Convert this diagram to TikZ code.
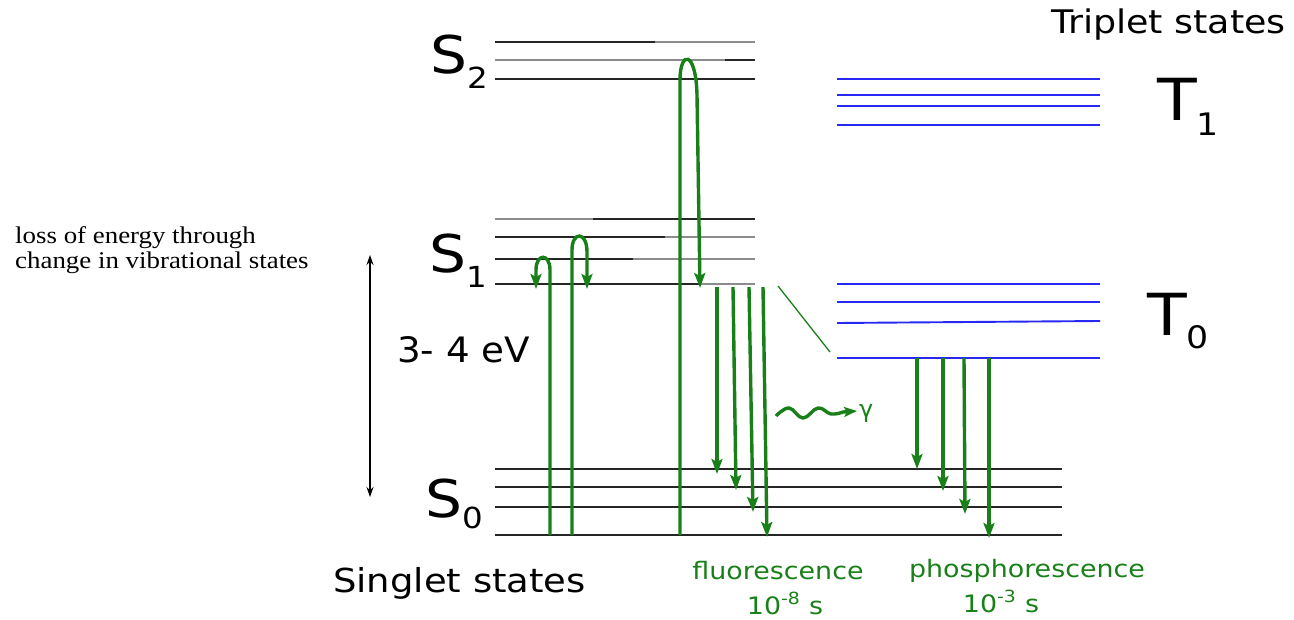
\documentclass[tikz,border=0pt]{standalone}
\usepackage{fontspec}
\setmainfont{DejaVu Sans}
\newfontfamily\serifx{Liberation Serif}
\usetikzlibrary{arrows.meta}
\definecolor{grn}{RGB}{25,128,25}
\definecolor{blu}{RGB}{40,40,245}
\definecolor{gry}{RGB}{140,140,140}
\begin{document}
\begin{tikzpicture}[x=1pt,y=-1pt,
  lvl/.style={line width=1.9pt,black!85},
  lvlg/.style={line width=1.9pt,gry},
  tlvl/.style={line width=1.9pt,blu},
  tr/.style={grn,line width=3.4pt,-{Stealth[length=15pt,width=11pt,inset=3pt]}},
  lbl/.style={inner sep=0pt,anchor=base west,xscale=1.12},
  gtxt/.style={inner sep=0pt,anchor=base,grn,xscale=1.12,font=\fontsize{24}{24}\selectfont},
]
\useasboundingbox (0,0) rectangle (1294,619);

% ---- singlet S2 levels
\draw[lvl] (495,42) -- (655,42); \draw[lvlg] (655,42) -- (755,42);
\draw[lvlg] (495,60) -- (725,60); \draw[lvl] (725,60) -- (755,60);
\draw[lvl] (495,79) -- (755,79);
% ---- singlet S1 levels
\draw[lvlg] (495,219) -- (593,219); \draw[lvl] (593,219) -- (755,219);
\draw[lvl] (495,237) -- (665,237); \draw[lvlg] (665,237) -- (755,237);
\draw[lvl] (495,259) -- (633,259); \draw[lvlg] (633,259) -- (755,259);
\draw[lvl] (495,284) -- (700,284); \draw[lvlg] (700,284) -- (755,284);
% ---- singlet S0 levels
\foreach \y in {469,487,507,535} \draw[lvl] (495,\y) -- (1062,\y);
% ---- triplet T1 levels
\foreach \y in {79,95,106,125} \draw[tlvl] (837,\y) -- (1100,\y);
% ---- triplet T0 levels
\foreach \y in {284,302,358} \draw[tlvl] (837,\y) -- (1100,\y);
\draw[tlvl] (837,323) -- (1100,321);

% ---- labels
\node[lbl,font=\fontsize{52}{52}\selectfont] (s2) at (430,73) {S\raisebox{-15pt}{\fontsize{29}{29}\selectfont 2}};
\node[lbl,font=\fontsize{52}{52}\selectfont] (s1) at (429,272) {S\raisebox{-15pt}{\fontsize{29}{29}\selectfont 1}};
\node[lbl,font=\fontsize{52}{52}\selectfont] (s0) at (425,517) {S\raisebox{-11pt}{\fontsize{29}{29}\selectfont 0}};
\node[lbl,font=\fontsize{58}{58}\selectfont] (t1) at (1157,120) {T\raisebox{-15pt}{\fontsize{31}{31}\selectfont 1}};
\node[lbl,font=\fontsize{58}{58}\selectfont] (t0) at (1147,335) {T\raisebox{-13pt}{\fontsize{31}{31}\selectfont 0}};
\node[lbl,font=\fontsize{32.5}{32.5}\selectfont] (trip) at (1051,33) {Triplet states};
\node[lbl,font=\fontsize{33}{33}\selectfont] (sing) at (333,592) {Singlet states};
\node[lbl,xscale=0.95,font=\fontsize{35}{35}\selectfont] (ev) at (397,362) {3- 4 eV};
\node[inner sep=0pt,anchor=base west,xscale=1.12,font=\serifx\fontsize{24}{25}\selectfont,align=left] (loss) at (15,268)
  {loss of energy through\\change in vibrational states};
\node[gtxt] (fl) at (778,579) {fluorescence};
\node[gtxt] (flt) at (785,614) {10\textsuperscript{-8} s};
\node[gtxt] (ph) at (1027,577) {phosphorescence};
\node[gtxt] (pht) at (1001,612) {10\textsuperscript{-3} s};
\node[inner sep=0pt,anchor=west,grn,font=\fontsize{24}{24}\selectfont] (gam) at (859,413) {γ};

% ---- energy gap double arrow
\coordinate (ea) at (370,255);
\coordinate (eb) at (370,497);
\draw[line width=1.2pt,{Stealth[length=10pt,width=7pt]}-{Stealth[length=10pt,width=7pt]}] (ea) -- (eb);

% ---- absorption + vibrational relaxation
\coordinate (a0) at (550,535); \coordinate (a1) at (536,289);
\coordinate (b0) at (572,535); \coordinate (b1) at (587,289);
\coordinate (c0) at (680,535); \coordinate (c1) at (700,288);
\draw[tr] (a0) -- (550,270) .. controls (550,253) and (536,253) .. (536,270) -- (a1);
\draw[tr] (b0) -- (572,250) .. controls (572,231) and (587,231) .. (587,252) -- (b1);
\draw[tr] (c0) -- (680,80) .. controls (680,50) and (696,50) .. (697,95) -- (c1);

% ---- fluorescence
\coordinate (f1s) at (717,287); \coordinate (f1e) at (717,474);
\coordinate (f2s) at (733,287); \coordinate (f2e) at (736,490);
\coordinate (f3s) at (749,287); \coordinate (f3e) at (753,512);
\coordinate (f4s) at (763,287); \coordinate (f4e) at (767,537);
\draw[tr] (f1s) -- (f1e);
\draw[tr] (f2s) -- (f2e);
\draw[tr] (f3s) -- (f3e);
\draw[tr] (f4s) -- (f4e);

% ---- intersystem crossing
\coordinate (isa) at (778,286); \coordinate (isb) at (830,352);
\draw[grn,line width=1.3pt] (isa) -- (isb);

% ---- emitted photon
\draw[grn,line width=3.4pt,-{Stealth[length=13pt,width=10pt,inset=3pt]}]
  plot[smooth,tension=0.7] coordinates {(776,416) (789,408) (803,418) (818,408) (831,414) (843,412)} -- (857,411);

% ---- phosphorescence
\coordinate (p1s) at (917,358); \coordinate (p1e) at (917,469);
\coordinate (p2s) at (943,358); \coordinate (p2e) at (943,491);
\coordinate (p3s) at (964,358); \coordinate (p3e) at (965,514);
\coordinate (p4s) at (989,358); \coordinate (p4e) at (989,538);
\draw[tr] (p1s) -- (p1e);
\draw[tr] (p2s) -- (p2e);
\draw[tr] (p3s) -- (p3e);
\draw[tr] (p4s) -- (p4e);
\end{tikzpicture}
\end{document}
